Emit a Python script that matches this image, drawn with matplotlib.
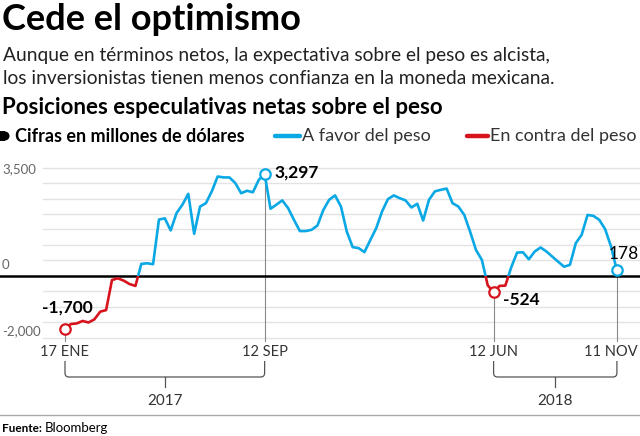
import numpy as np
import pandas as pd
import matplotlib
matplotlib.use("Agg")
import matplotlib.pyplot as plt
import matplotlib.dates as mdates
import matplotlib.transforms as mtransforms
from matplotlib.path import Path
from matplotlib.patches import PathPatch, Rectangle, Ellipse
from matplotlib.lines import Line2D

# weekly net speculative positions on the peso (millions of USD), from 17 Jan 2017
values = [-1700, -1550, -1530, -1450, -1500, -1400, -1150, -1100, -130, -75,
          -150, -260, -320, 390, 410, 380, 1820, 1860, 1470, 2030,
          2300, 2650, 1360, 2240, 2350, 2730, 3210, 3180, 3180, 3000,
          2670, 2750, 2700, 3100, 3297, 2170, 2300, 2440, 2190, 1810,
          1450, 1450, 1490, 1630, 2130, 2460, 2600, 2240, 1430, 930,
          900, 770, 1160, 1540, 2080, 2480, 2600, 2510, 2440, 2210,
          2330, 1790, 2460, 2730, 2780, 2820, 2350, 2240, 1970, 1430,
          840, 520, -300, -524, -320, -310, 280, 755, 765, 540,
          790, 920, 790, 625, 460, 300, 360, 1060, 1330, 1970,
          1940, 1810, 1510, 950, 178]
dates = pd.date_range("2017-01-17", periods=len(values), freq="7D")

# highlighted points: (index, label)
highlights = [(0, "-1,700"), (34, "3,297"), (73, "-524"), (94, "178")]
date_labels = ["17 ENE", "12 SEP", "12 JUN", "11 NOV"]
ytick_labels = ["3,500", "0", "-2,000"]
years = ["2017", "2018"]

BLUE = "#0aa8e4"
RED = "#d7141e"
GRID = "#e3e3e3"
FONT = ["Lato", "DejaVu Sans"]

W, H = 640, 436
fig = plt.figure(figsize=(W / 100, H / 100), dpi=100)
fig.patch.set_facecolor("white")


def fx(px):
    return px / W


def fy(py):
    return 1 - py / H


# main axes: spans full width, pixel rows 160..345
ax = fig.add_axes([0, fy(345), 1, 185 / H])
ax.set_axis_off()
ymin, ymax = -2226, 3742
ax.set_ylim(ymin, ymax)
pxday = (616.9 - 65) / 658
xd = mdates.date2num(dates)
ax.set_xlim(xd[0] - 65 / pxday, xd[-1] + (W - 616.9) / pxday)

for g in range(-2000, 3501, 500):
    if g != 0:
        ax.axhline(g, xmin=43 / W, xmax=1, color=GRID, lw=1.0, zorder=1)
ax.axhline(0, color="black", lw=1.8, zorder=3)

# reference lines under highlighted points
for i, _ in highlights:
    ax.plot([xd[i], xd[i]], [values[i], -2100], color="#8a8a8a", lw=0.8, zorder=2)

zero_frac = (0 - ymin) / (ymax - ymin)
blue_line, = ax.plot(xd, values, color=BLUE, lw=1.9, zorder=4, solid_joinstyle="round")
red_line, = ax.plot(xd, values, color=RED, lw=1.9, zorder=4, solid_joinstyle="round")
clip_up = Rectangle((0, zero_frac), 1, 1 - zero_frac, transform=ax.transAxes, visible=False)
clip_dn = Rectangle((0, 0), 1, zero_frac, transform=ax.transAxes, visible=False)
ax.add_patch(clip_up)
ax.add_patch(clip_dn)
blue_line.set_clip_path(clip_up)
red_line.set_clip_path(clip_dn)

for i, _ in highlights:
    c = BLUE if values[i] > 0 else RED
    ax.plot(xd[i], values[i], "o", ms=7.5, mfc="white", mec=c, mew=1.6, zorder=6)

# point labels
ax.text(xd[0] + 3, values[0] + 420, highlights[0][1], fontsize=12.5, fontweight="bold",
        family=FONT, ha="center", va="bottom", zorder=7)
ax.text(xd[34] + 12, values[34] + 30, highlights[1][1], fontsize=12.5, fontweight="bold",
        family=FONT, ha="left", va="center", zorder=7)
ax.text(xd[73] + 11, values[73] - 250, highlights[2][1], fontsize=12.5, fontweight="bold",
        family=FONT, ha="left", va="center", zorder=7)
fig.text(fx(639), fy(254), highlights[3][1], fontsize=12.5, family=FONT,
         ha="right", va="center", zorder=7)

# y labels
ypos = [169, 265, 331]
for lab, py in zip(ytick_labels, ypos):
    fig.text(fx(2), fy(py), lab, fontsize=9.5, color="#666666", family=FONT,
             ha="left", va="center")

# date labels and year brackets
bt = mtransforms.blended_transform_factory(ax.transData, fig.transFigure)
for i, lab in zip([0, 34, 73], date_labels[:3]):
    fig.text(xd[i], fy(352), lab, transform=bt, fontsize=10.5, color="#333333",
             family=FONT, ha="center", va="center")
fig.text(fx(638), fy(352), date_labels[3], fontsize=10.5, color="#333333",
         family=FONT, ha="right", va="center")


def bracket(xa, xb, label):
    top, bot, stub = fy(361), fy(377), fy(387)
    rx, ry = 4 / pxday, 4 / H
    verts = [(xa, top), (xa, bot + ry), (xa, bot), (xa + rx, bot),
             (xb - rx, bot), (xb, bot), (xb, bot + ry), (xb, top)]
    codes = [Path.MOVETO, Path.LINETO, Path.CURVE3, Path.CURVE3,
             Path.LINETO, Path.CURVE3, Path.CURVE3, Path.LINETO]
    fig.add_artist(PathPatch(Path(verts, codes), fill=False, ec="#555555", lw=0.9, transform=bt))
    xm = (xa + xb) / 2
    fig.add_artist(Line2D([xm, xm], [bot, stub], color="#555555", lw=0.9, transform=bt))
    fig.text(xm, fy(401), label, transform=bt, fontsize=11, color="#333333",
             family=FONT, ha="center", va="center")


bracket(xd[0], xd[34], years[0])
bracket(xd[73], xd[94], years[1])

# titles
fig.text(fx(2), fy(19), "Cede el optimismo", fontsize=26, fontweight="bold",
         family=FONT, ha="left", va="center")
fig.text(fx(3), fy(55), "Aunque en términos netos, la expectativa sobre el peso es alcista,",
         fontsize=13.8, family=FONT, color="#222222", ha="left", va="center")
fig.text(fx(3), fy(78), "los inversionistas tienen menos confianza en la moneda mexicana.",
         fontsize=13.8, family=FONT, color="#222222", ha="left", va="center")
fig.text(fx(2), fy(107), "Posiciones especulativas netas sobre el peso", fontsize=16,
         fontweight="bold", family=FONT, ha="left", va="center")

# legend row: black tab marker
fig.add_artist(Rectangle((fx(0), fy(140.5)), fx(5), 9 / H, color="black", lw=0))
fig.add_artist(Ellipse((fx(5), fy(136)), 9 / W, 9 / H, color="black", lw=0))
fig.text(fx(15), fy(136), "Cifras en millones de dólares", fontsize=13, fontweight="bold",
         family=FONT, ha="left", va="center")
fig.add_artist(Line2D([fx(275), fx(300)], [fy(136), fy(136)], color=BLUE, lw=3.2,
                      solid_capstyle="round"))
fig.text(fx(302), fy(136), "A favor del peso", fontsize=13, family=FONT,
         color="#333333", ha="left", va="center")
fig.add_artist(Line2D([fx(467), fx(488)], [fy(136), fy(136)], color=RED, lw=3.2,
                      solid_capstyle="round"))
fig.text(fx(490), fy(136), "En contra del peso", fontsize=13, family=FONT,
         color="#333333", ha="left", va="center")

# footer
fig.add_artist(Line2D([0, 1], [fy(415), fy(415)], color="#aaaaaa", lw=1.0))
fig.text(fx(2), fy(428), "Fuente:", fontsize=8.5, fontweight="bold", family=FONT,
         ha="left", va="center")
fig.text(fx(45), fy(428), "Bloomberg", fontsize=9.5, family=FONT, ha="left", va="center")

fig.savefig("out.png", dpi=100)
